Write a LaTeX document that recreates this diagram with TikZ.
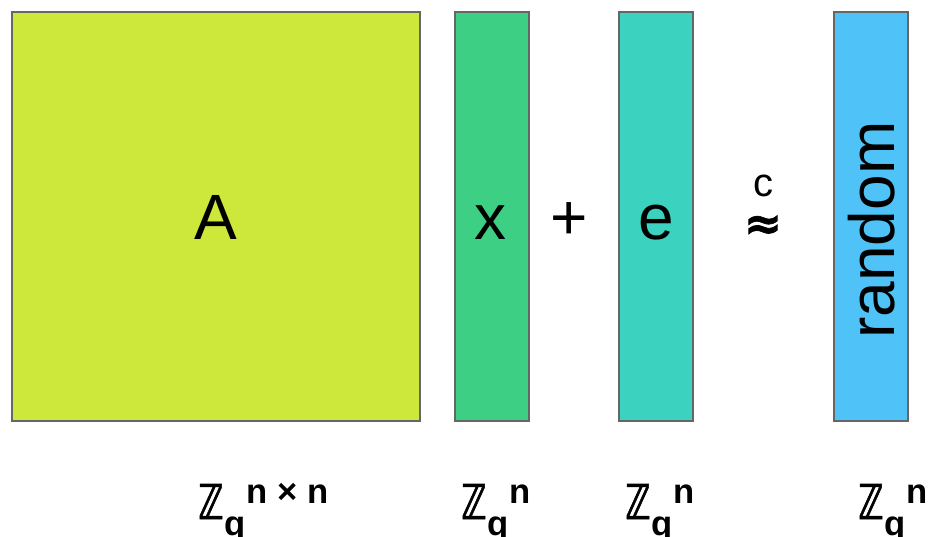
\documentclass[tikz,border=0pt]{standalone}
\usepackage{fontspec}
\setmainfont{Liberation Sans}
\newfontfamily\dejavu{DejaVu Sans}
\newfontfamily\dejavub[FakeBold=1.5]{DejaVu Sans Bold}
\usepackage{graphicx}
\usetikzlibrary{positioning}
\definecolor{limeA}{HTML}{CDE83A}
\definecolor{greenX}{HTML}{3DD085}
\definecolor{tealE}{HTML}{3BD2C0}
\definecolor{blueR}{HTML}{4FC3F7}
\definecolor{frame}{HTML}{666666}
\tikzset{
  mat/.style={draw=frame, line width=1.5pt, inner sep=0pt},
  vec/.style={mat, minimum width=55.5pt, minimum height=306.75pt},
  big/.style={font=\fontsize{48}{48}\selectfont, text height=35pt, text depth=0pt},
  lbl/.style={anchor=base west, inner sep=0pt},
}
\newcommand{\zq}[1]{%
  {\dejavub\fontsize{36}{36}\selectfont\scalebox{0.7}[1]{ℤ}}%
  \kern0.5pt\raisebox{-12pt}{\bfseries\fontsize{26}{26}\selectfont q}%
  \kern1pt\raisebox{12pt}{\bfseries\fontsize{26}{26}\selectfont #1}}

\begin{document}
\begin{tikzpicture}[x=0.75pt, y=-0.75pt]
    \useasboundingbox (0,0) rectangle (929,536);
    % the matrix and the three columns
    \node[mat, big, fill=limeA, minimum width=306pt, minimum height=306.75pt] (A) at (216,216.5) {A};
    \node[vec, big, fill=greenX] (x) at (492,216.5) {\kern-2pt x};
    \node[vec, big, fill=tealE] (e) at (656,216.5) {e};
    \node[vec, fill=blueR] (R) at (871,216.5) {};
    \node[big, rotate=90, inner sep=0pt] (rnd) at (871,230) {random};
    % operators
    \node[big, inner sep=0pt] (plus) at (569,216) {+};
    \node[inner sep=0pt, font=\fontsize{30}{30}\selectfont, text height=15pt, text depth=0pt] (c) at (763,186) {c};
    \node[inner sep=0pt, font=\dejavub\fontsize{34}{34}\selectfont, text height=12pt, text depth=0pt] (approx) at (763,231) {≈};
    % sets
    \node[lbl] (zA) at (198,519) {\zq{n × n}};
    \node[lbl] (zx) at (461,519) {\zq{n}};
    \node[lbl] (ze) at (625,519) {\zq{n}};
    \node[lbl] (zR) at (858,519) {\zq{n}};
\end{tikzpicture}
\end{document}
